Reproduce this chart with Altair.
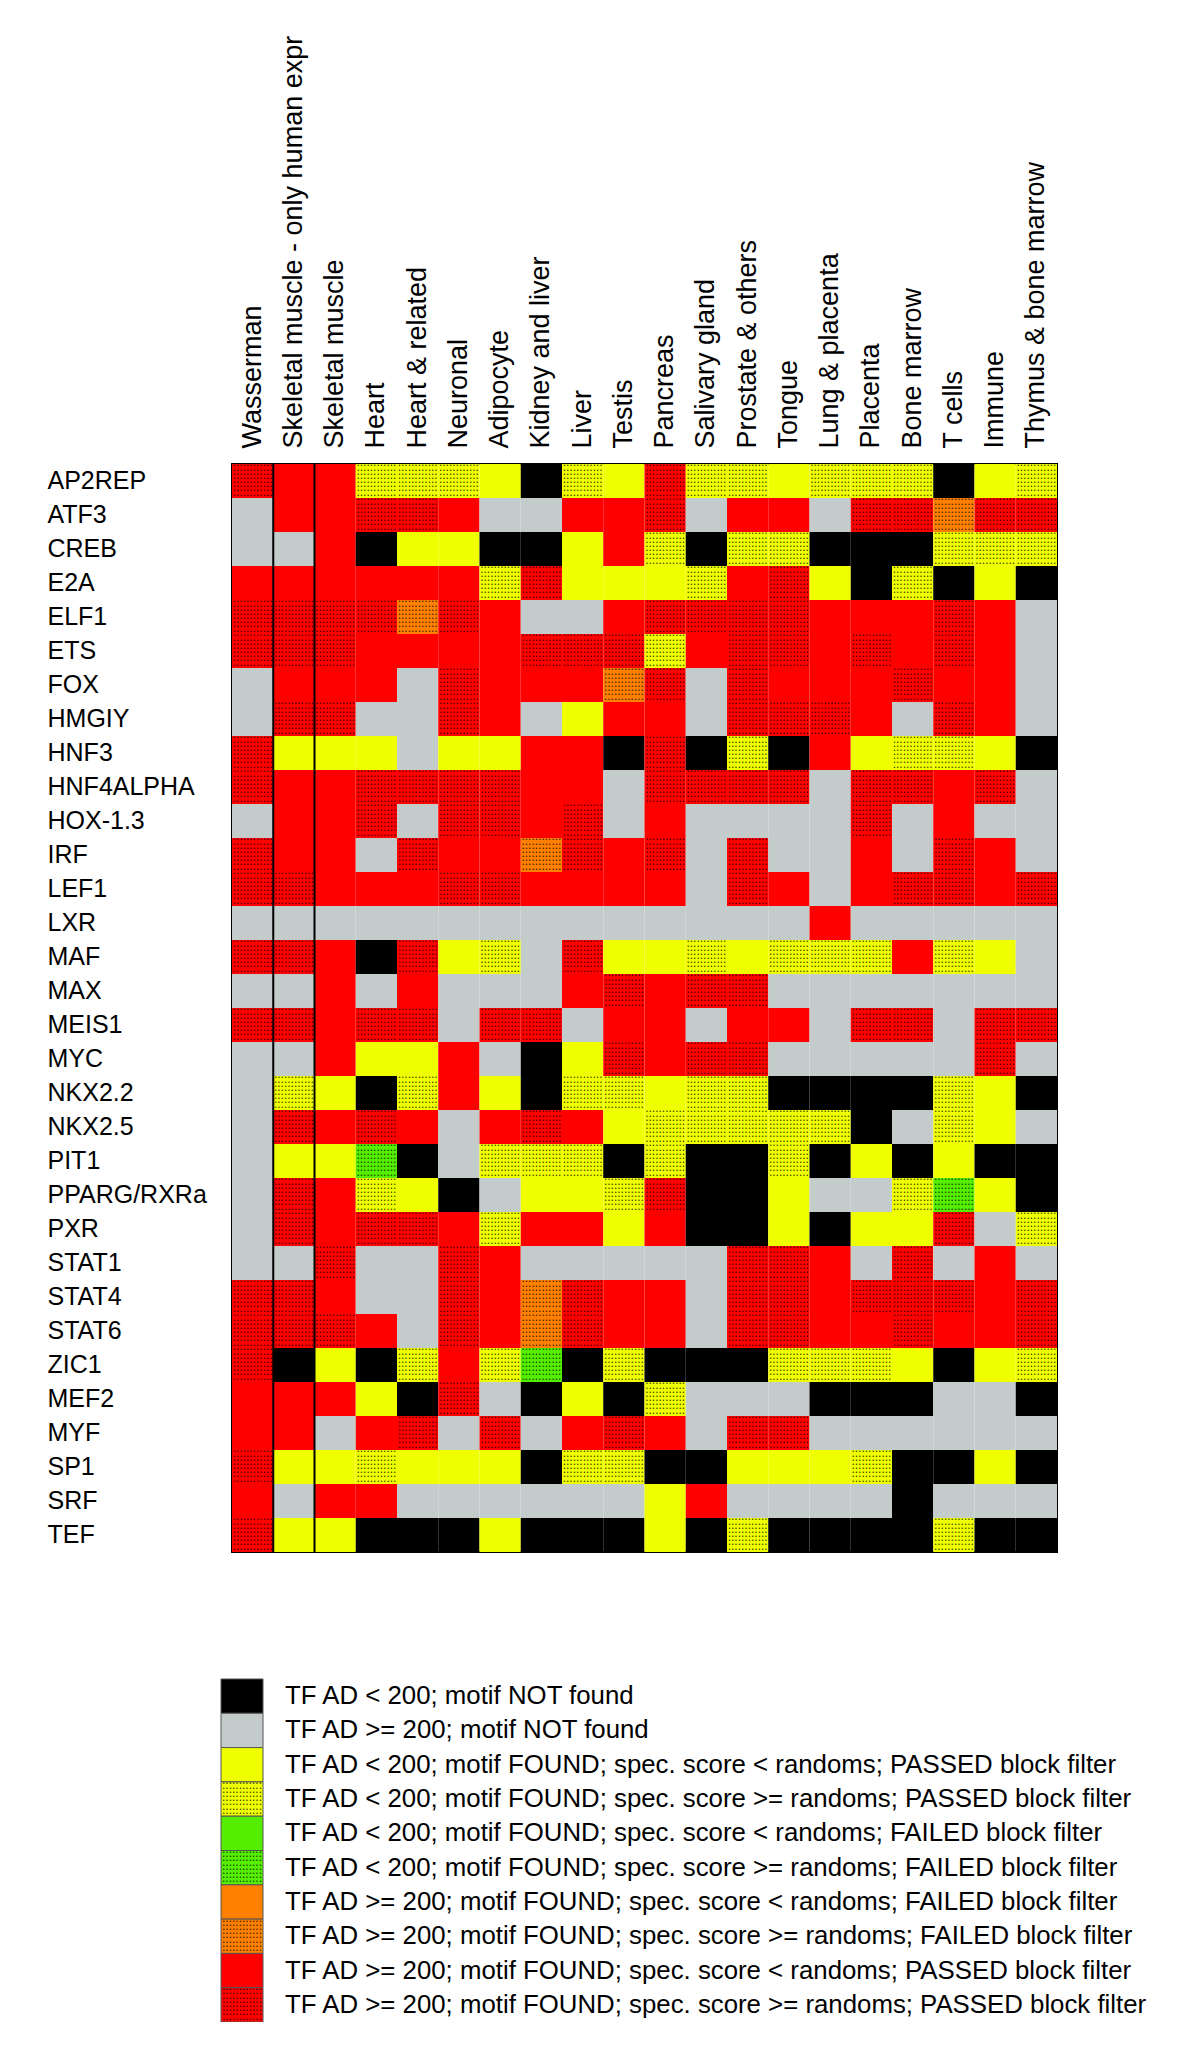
import altair as alt
import pandas as pd

columns = [
    "Wasserman", "Skeletal muscle - only human expr", "Skeletal muscle", "Heart",
    "Heart & related", "Neuronal", "Adipocyte", "Kidney and liver", "Liver", "Testis",
    "Pancreas", "Salivary gland", "Prostate & others", "Tongue", "Lung & placenta",
    "Placenta", "Bone marrow", "T cells", "Immune", "Thymus & bone marrow",
]

row_names = [
    "AP2REP", "ATF3", "CREB", "E2A", "ELF1", "ETS", "FOX", "HMGIY", "HNF3", "HNF4ALPHA",
    "HOX-1.3", "IRF", "LEF1", "LXR", "MAF", "MAX", "MEIS1", "MYC", "NKX2.2", "NKX2.5",
    "PIT1", "PPARG/RXRa", "PXR", "STAT1", "STAT4", "STAT6", "ZIC1", "MEF2", "MYF", "SP1",
    "SRF", "TEF",
]

# K black, G gray, Y yellow, y yellow dotted, N green, n green dotted,
# O orange, o orange dotted, R red, r red dotted
cell_codes = [
    "rRRyyyYKyY" "ryyYyyyKYy",
    "GRRrrRGGRR" "rGRRGrrorr",
    "GGRKYYKKYR" "yKyyKKKyyy",
    "RRRRRRyrYY" "YyRrYKyKYK",
    "rrrrorRGGR" "rrrrRRRrRG",
    "rrrRRRRrrr" "yRrrRrRrRG",
    "GRRRGrRRRo" "rGrRRRrRRG",
    "GrrGGrRGYR" "RGrrrRGrRG",
    "rYYYGYYRRK" "rKyKRYyyYK",
    "rRRrrrrRRG" "rrrrGrrRrG",
    "GRRrGrrRrG" "RGGGGrGRGG",
    "rRRGrRRorR" "rGrGGRGrRG",
    "rrRRRrrRRR" "RGrRGRrrRr",
    "GGGGGGGGGG" "GGGGRGGGGG",
    "rrRKrYyGrY" "YyYyyyRyYG",
    "GGRGRGGGRr" "RrrGGGGGGG",
    "rrRrrGrrGR" "RGRRGrrGrr",
    "GGRYYRGKYr" "RrrGGGGGrG",
    "GyYKyRYKyy" "YyyKKKKyYK",
    "GrRrRGRrRY" "yyyyyKGyYG",
    "GYYnKGyyyK" "yKKyKYKYKK",
    "GrRyYKGYYy" "rKKYGGynYK",
    "GrRrrRyRRY" "RKKYKYYrGy",
    "GGrGGrRGGG" "GGrrRGrGRG",
    "rrRGGrRorR" "RGrrRrrrRr",
    "rrrRGrRorR" "RGrrRRrRRr",
    "rKYKyRynKy" "KKKyyyYKYy",
    "RRRYKrGKYK" "yGGGKKKGGK",
    "RRGRrGrGRr" "RGrrGGGGGG",
    "rYYyYYYKyy" "KKYYYyKKYK",
    "RGRRGGGGGG" "YRGGGGKGGG",
    "rYYKKKYKKK" "YKyKKKKyKK",
]

legend_codes = ["K", "G", "Y", "y", "N", "n", "O", "o", "R", "r"]
legend_labels = [
    "TF AD < 200; motif NOT found",
    "TF AD >= 200; motif NOT found",
    "TF AD < 200; motif FOUND; spec. score < randoms; PASSED block filter",
    "TF AD < 200; motif FOUND; spec. score >= randoms; PASSED block filter",
    "TF AD < 200; motif FOUND; spec. score < randoms; FAILED block filter",
    "TF AD < 200; motif FOUND; spec. score >= randoms; FAILED block filter",
    "TF AD >= 200; motif FOUND; spec. score < randoms; FAILED block filter",
    "TF AD >= 200; motif FOUND; spec. score >= randoms; FAILED block filter",
    "TF AD >= 200; motif FOUND; spec. score < randoms; PASSED block filter",
    "TF AD >= 200; motif FOUND; spec. score >= randoms; PASSED block filter",
]
legend_colors = ["#000000", "#c3cbcb", "#f0ff00", "#f0ff00", "#55ee00",
                 "#55ee00", "#ff8000", "#ff8000", "#ff0000", "#ff0000"]
dotted_codes = ["y", "n", "o", "r"]
separator_cols = ["Skeletal muscle - only human expr", "Skeletal muscle"]

FONT = "Liberation Sans"
N_DOT_LINES = 8
DOT_LH = 4.2
DOT_PATTERN = ["." * 12] * N_DOT_LINES
DOT_DY = -4 - (N_DOT_LINES - 1) * DOT_LH / 2

code_to_label = dict(zip(legend_codes, legend_labels))
records = []
for rname, codes in zip(row_names, cell_codes):
    for cname, c in zip(columns, codes):
        records.append({"row": rname, "col": cname, "label": code_to_label[c],
                        "dotted": c in dotted_codes})
df = pd.DataFrame(records)
dots_df = df[df["dotted"]]

leg_df = pd.DataFrame({"label": legend_labels,
                       "dotted": [c in dotted_codes for c in legend_codes]})
leg_dots_df = leg_df[leg_df["dotted"]]
sep_df = pd.DataFrame({"col": separator_cols})

xscale = alt.Scale(domain=columns, paddingInner=0, paddingOuter=0)
yscale = alt.Scale(domain=row_names, paddingInner=0, paddingOuter=0)
cscale = alt.Scale(domain=legend_labels, range=legend_colors)
lscale = alt.Scale(domain=legend_labels, range=[1215, 1558], paddingInner=0, paddingOuter=0)

x_axis = alt.Axis(orient="top", labelAngle=270, labelAlign="left", labelBaseline="middle",
                  labelPadding=16, labelFontSize=27, labelLimit=600, title=None,
                  labelFont=FONT, labelColor="black", domain=False, ticks=False, grid=False)
y_axis = alt.Axis(orient="left", labelAlign="left", labelBaseline="middle",
                  labelPadding=185, labelFontSize=25, labelLimit=300, title=None,
                  labelFont=FONT, labelColor="black", domain=False, ticks=False, grid=False)

rects = alt.Chart(df).mark_rect().encode(
    x=alt.X("col:N", scale=xscale, axis=x_axis),
    y=alt.Y("row:N", scale=yscale, axis=y_axis),
    color=alt.Color("label:N", scale=cscale, legend=None),
)
dots = alt.Chart(dots_df).mark_text(
    text=DOT_PATTERN, fontSize=12, lineHeight=DOT_LH, dy=DOT_DY, color="black",
    opacity=0.8, font=FONT, align="center", baseline="middle",
).encode(
    x=alt.X("col:N", scale=xscale, axis=x_axis),
    y=alt.Y("row:N", scale=yscale, axis=y_axis),
)
seps = alt.Chart(sep_df).mark_rule(color="black", strokeWidth=2).encode(
    x=alt.X("col:N", scale=xscale, axis=x_axis, bandPosition=0),
)
heat = alt.layer(rects, dots, seps)

leg_rects = alt.Chart(leg_df).mark_rect(stroke="#555555", strokeWidth=1).encode(
    x=alt.value(-11), x2=alt.value(31),
    y=alt.Y("label:N", scale=lscale, axis=None),
    color=alt.Color("label:N", scale=cscale, legend=None),
)
leg_dots = alt.Chart(leg_dots_df).mark_text(
    text=DOT_PATTERN, fontSize=12, lineHeight=DOT_LH, dy=DOT_DY, color="black",
    opacity=0.8, font=FONT, align="center", baseline="middle",
).encode(
    x=alt.value(10),
    y=alt.Y("label:N", scale=lscale, axis=None),
)
leg_text = alt.Chart(leg_df).mark_text(
    align="left", baseline="middle", fontSize=25.8, font=FONT, color="black",
).encode(
    x=alt.value(53),
    y=alt.Y("label:N", scale=lscale, axis=None),
    text="label:N",
)
legend = alt.layer(leg_rects, leg_dots, leg_text)

chart = alt.layer(heat, legend).resolve_scale(y="independent").properties(
    width=825, height=1088,
    autosize=alt.AutoSizeParams(type="none"),
    padding={"left": 224, "top": 456, "right": 120, "bottom": 470},
).configure_view(stroke="black", strokeWidth=2)

chart.save("out.html", embed_options={"renderer": "svg", "actions": False})
